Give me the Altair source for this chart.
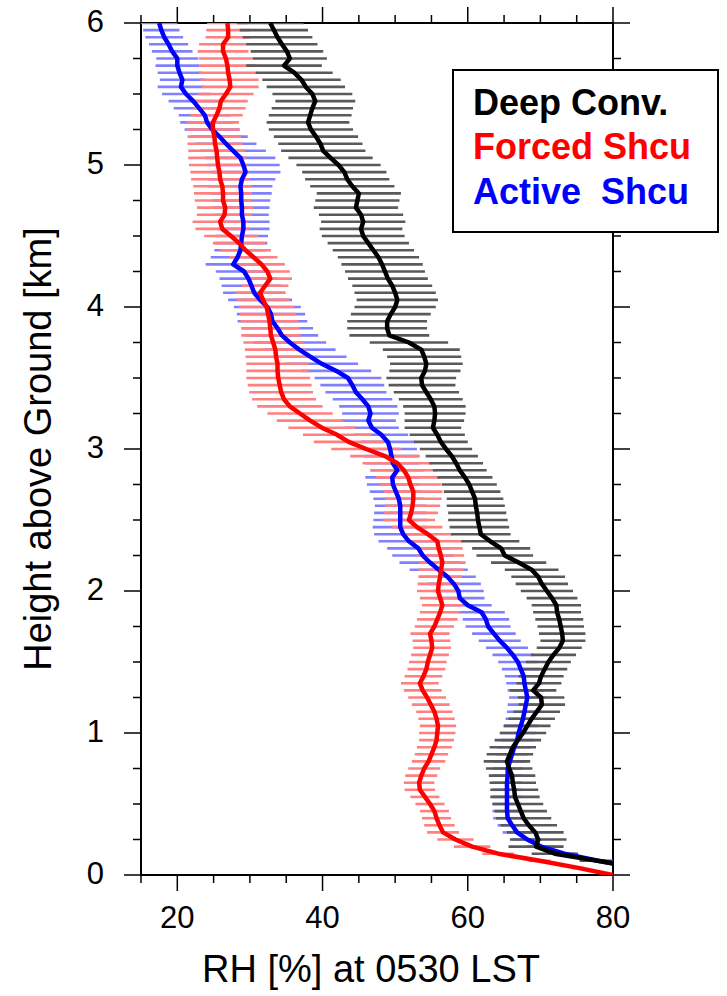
import altair as alt
import pandas as pd

# Height levels (km above ground), bottom to top, every 50 m
heights = [round(0.05 * i, 2) for i in range(121)]

# Deep convection days: mean RH (%) and spread (+/- %)
deep_mean = [90.0, 83.7, 77.9, 72.0, 69.4, 69.7, 69.3, 68.4, 67.7, 67.3,
             66.9, 66.5, 66.4, 66.2, 66.1, 65.7, 65.4, 65.8, 66.2, 66.9,
             67.6, 68.2, 68.8, 69.5, 70.2, 70.1, 69.0, 69.8, 70.1, 70.6,
             71.1, 71.8, 72.6, 73.1, 73.0, 72.8, 72.6, 72.3, 72.2, 71.6,
             70.9, 70.2, 69.7, 68.8, 67.0, 65.1, 64.6, 63.1, 61.8, 61.6,
             61.4, 61.3, 61.1, 61.0, 60.6, 60.2, 59.6, 58.9, 58.4, 57.8,
             57.0, 56.3, 55.8, 55.2, 55.4, 55.5, 55.4, 54.9, 54.3, 53.7,
             53.6, 54.1, 54.3, 54.0, 53.6, 51.9, 49.2, 48.9, 48.9, 49.4,
             50.0, 50.3, 50.0, 49.6, 49.0, 48.6, 48.2, 47.7, 47.0, 46.3,
             45.6, 45.3, 45.6, 45.3, 44.6, 44.8, 45.0, 44.1, 43.4, 43.0,
             42.2, 41.1, 40.1, 39.7, 39.1, 38.4, 38.0, 38.3, 38.6, 39.0,
             38.6, 37.7, 37.1, 36.1, 34.7, 35.5, 35.1, 34.4, 33.8, 33.3,
             32.8]
deep_err = [0.5, 1.5, 2.5, 3.2, 3.8, 3.9, 3.9, 3.9, 3.8, 3.6,
            3.5, 3.4, 3.3, 3.2, 3.2, 3.2, 3.2, 3.2, 3.2, 3.2,
            3.2, 3.2, 3.2, 3.2, 3.2, 3.2, 3.2, 3.1, 3.1, 3.1,
            3.1, 3.1, 3.1, 3.1, 3.2, 3.2, 3.3, 3.3, 3.4, 3.5,
            3.6, 3.6, 3.7, 3.7, 3.8, 3.9, 4.0, 4.0, 4.1, 4.1,
            4.1, 4.0, 4.0, 3.9, 3.9, 3.8, 3.8, 3.7, 3.7, 3.6,
            3.6, 3.7, 3.8, 3.9, 4.1, 4.2, 4.3, 4.4, 4.5, 4.6,
            4.8, 4.9, 5.0, 5.1, 5.3, 5.4, 5.5, 5.5, 5.5, 5.5,
            5.6, 5.6, 5.6, 5.5, 5.5, 5.5, 5.6, 5.6, 5.6, 5.6,
            5.7, 5.7, 5.8, 5.8, 5.8, 5.8, 5.8, 5.8, 5.8, 5.8,
            5.8, 5.8, 5.8, 5.8, 5.8, 5.8, 5.7, 5.7, 5.6, 5.5,
            5.5, 5.4, 5.4, 5.3, 5.2, 5.1, 5.0, 4.9, 4.8, 4.7,
            4.6]

# Forced shallow cumulus days
forced_mean = [80.0, 75.2, 69.9, 64.2, 60.6, 58.3, 56.6, 56.1, 55.7, 55.4,
               54.8, 54.1, 53.4, 53.3, 53.6, 54.0, 54.6, 55.0, 55.4, 55.7,
               55.8, 55.9, 55.7, 55.4, 54.9, 54.4, 53.8, 53.4, 53.9, 54.3,
               54.5, 54.8, 55.1, 55.0, 54.8, 55.4, 55.8, 56.2, 56.5, 56.2,
               55.9, 56.0, 56.2, 56.3, 56.5, 56.3, 56.0, 55.8, 54.5, 53.0,
               51.9, 52.2, 52.4, 52.5, 52.5, 52.1, 51.8, 51.2, 50.3, 48.6,
               46.0, 43.6, 42.0, 39.9, 38.3, 36.9, 35.5, 34.7, 34.3, 34.1,
               33.9, 33.8, 33.8, 33.6, 33.5, 33.2, 32.9, 32.8, 32.7, 32.5,
               32.3, 31.8, 31.4, 32.1, 32.8, 32.4, 31.6, 30.5, 29.4, 28.5,
               27.4, 26.2, 25.9, 26.5, 26.6, 26.3, 26.3, 26.2, 25.9, 25.8,
               25.6, 25.5, 25.4, 25.2, 25.1, 24.9, 24.9, 25.4, 25.8, 26.0,
               26.7, 27.3, 27.2, 27.0, 26.9, 26.7, 26.3, 26.3, 27.0, 27.0,
               26.9]
forced_err = [0.3, 0.8, 1.5, 2.2, 2.5, 2.5, 2.2, 2.1, 2.0, 2.0,
              2.0, 2.0, 2.1, 2.1, 2.2, 2.2, 2.3, 2.3, 2.4, 2.4,
              2.5, 2.5, 2.5, 2.5, 2.6, 2.6, 2.6, 2.6, 2.6, 2.6,
              2.6, 2.6, 2.6, 2.6, 2.7, 2.7, 2.8, 2.8, 2.8, 2.8,
              2.9, 2.9, 3.0, 3.1, 3.2, 3.2, 3.3, 3.4, 3.5, 3.5,
              3.6, 3.7, 3.8, 3.9, 4.0, 4.2, 4.5, 4.6, 4.8, 4.8,
              4.8, 4.8, 4.7, 4.6, 4.6, 4.5, 4.5, 4.4, 4.4, 4.4,
              4.4, 4.3, 4.3, 4.2, 4.2, 4.1, 4.1, 4.0, 4.0, 3.9,
              3.8, 3.6, 3.4, 3.2, 3.0, 3.1, 3.2, 3.3, 3.5, 3.6,
              3.7, 3.7, 3.8, 3.8, 3.9, 3.9, 4.0, 4.0, 4.0, 4.0,
              4.0, 4.0, 3.9, 3.8, 3.7, 3.6, 3.6, 3.6, 3.6, 3.7,
              3.8, 3.9, 4.0, 4.0, 3.9, 3.7, 3.5, 3.3, 3.1, 3.0,
              2.8]

# Active shallow cumulus days
active_mean = [90.0, 83.7, 77.9, 73.3, 70.1, 68.2, 66.8, 66.1, 65.5, 65.4,
               65.4, 65.4, 65.4, 65.4, 65.5, 65.5, 65.8, 66.1, 66.4, 66.8,
               67.0, 67.3, 67.6, 67.8, 68.0, 68.2, 68.0, 67.8, 67.7, 67.3,
               66.9, 66.2, 65.4, 64.4, 63.6, 62.8, 62.5, 61.9, 60.0, 58.9,
               58.7, 58.1, 57.2, 56.0, 54.8, 53.8, 53.2, 51.9, 51.1, 50.7,
               50.7, 50.7, 50.7, 50.5, 50.1, 49.7, 49.6, 50.3, 49.7, 49.5,
               49.3, 49.0, 48.1, 46.8, 46.3, 46.6, 46.3, 45.5, 44.6, 44.1,
               43.5, 41.9, 39.9, 38.3, 36.8, 35.5, 34.4, 33.8, 33.1, 32.9,
               32.4, 31.4, 30.6, 30.2, 29.8, 29.2, 27.7, 28.3, 28.7, 28.8,
               28.9, 29.1, 29.1, 28.9, 28.9, 28.8, 28.8, 28.7, 28.9, 29.4,
               29.1, 28.7, 27.7, 26.7, 25.8, 24.8, 24.1, 23.8, 23.0, 22.2,
               21.2, 20.5, 20.7, 20.3, 20.0, 20.0, 19.3, 18.8, 18.2, 17.8,
               17.5]
active_err = [0.5, 0.8, 1.0, 1.5, 2.0, 2.0, 2.0, 2.0, 2.0, 2.0,
              2.0, 2.0, 2.0, 2.0, 2.1, 2.1, 2.2, 2.2, 2.3, 2.3,
              2.4, 2.4, 2.4, 2.4, 2.5, 2.5, 2.5, 2.5, 2.6, 2.6,
              2.7, 2.8, 2.9, 2.9, 3.0, 3.1, 3.2, 3.2, 3.3, 3.4,
              3.5, 3.7, 3.9, 4.0, 4.2, 4.2, 4.3, 4.2, 4.0, 3.8,
              3.7, 3.6, 3.5, 3.5, 3.6, 3.6, 3.7, 3.7, 3.7, 3.7,
              3.7, 3.7, 3.7, 3.7, 3.8, 3.9, 4.0, 4.1, 4.2, 4.4,
              4.6, 4.8, 5.0, 5.0, 5.0, 5.0, 5.0, 4.9, 4.8, 4.7,
              4.6, 4.4, 4.3, 4.1, 4.0, 3.9, 3.8, 3.7, 3.6, 3.6,
              3.6, 3.6, 3.6, 3.7, 3.8, 4.0, 4.2, 4.4, 4.6, 4.8,
              5.0, 4.8, 4.5, 4.2, 3.9, 3.8, 3.7, 3.6, 3.5, 3.4,
              3.3, 3.2, 3.1, 3.0, 3.0, 2.9, 2.8, 2.7, 2.6, 2.5,
              2.5]

legend_labels = ["Deep Conv.", "Forced Shcu", "Active\u00a0 Shcu"]
line_colors = ["#000000", "#ff0000", "#0000ff"]
bar_colors = ["#5a5a5a", "#ff8080", "#8080ff"]

# Axis tick positions
y_major = [0, 1, 2, 3, 4, 5, 6]
y_minor = [0.25, 0.5, 0.75, 1.25, 1.5, 1.75, 2.25, 2.5, 2.75, 3.25, 3.5,
           3.75, 4.25, 4.5, 4.75, 5.25, 5.5, 5.75]
x_major = [20, 40, 60, 80]
x_minor = [15, 25, 30, 35, 45, 50, 55, 65, 70, 75]

W, H = 472, 852
FONT = "Liberation Sans, Arial, Helvetica, sans-serif"

xs = alt.Scale(domain=[15, 80], nice=False, zero=False)
ys = alt.Scale(domain=[0, 6], nice=False, zero=False)


def profile_frame(mean, err):
    return pd.DataFrame({
        "h": heights,
        "rh": mean,
        "lo": [m - e for m, e in zip(mean, err)],
        "hi": [m + e for m, e in zip(mean, err)],
    })


frames = {
    "deep": profile_frame(deep_mean, deep_err),
    "forced": profile_frame(forced_mean, forced_err),
    "active": profile_frame(active_mean, active_err),
}


def spread_bars(df, color):
    return alt.Chart(df).mark_rule(
        stroke=color, strokeWidth=2.6, clip=True
    ).encode(
        x=alt.X("lo:Q", scale=xs, axis=None),
        x2="hi:Q",
        y=alt.Y("h:Q", scale=ys, axis=None),
    )


def mean_line(df, color):
    return alt.Chart(df).mark_line(
        stroke=color, strokeWidth=4.5, clip=True, strokeJoin="round"
    ).encode(
        x=alt.X("rh:Q", scale=xs, axis=None),
        y=alt.Y("h:Q", scale=ys, axis=None),
        order=alt.Order("h:Q"),
    )


ytick_major = pd.DataFrame({"v": y_major})
ytick_minor = pd.DataFrame({"v": y_minor})
xtick_major = pd.DataFrame({"v": x_major})
xtick_minor = pd.DataFrame({"v": x_minor})


def yticks(df, x0, x1):
    return alt.Chart(df).mark_rule(color="black", strokeWidth=1.5).encode(
        y=alt.Y("v:Q", scale=ys, axis=None), x=alt.value(x0), x2=alt.value(x1))


def xticks(df, y0, y1):
    return alt.Chart(df).mark_rule(color="black", strokeWidth=1.5).encode(
        x=alt.X("v:Q", scale=xs, axis=None), y=alt.value(y0), y2=alt.value(y1))


# Outward ticks on all four sides of the frame
ticks = [
    yticks(ytick_major, 0, -17),
    yticks(ytick_minor, 0, -8),
    yticks(ytick_major, W, W + 17),
    yticks(ytick_minor, W, W + 8),
    xticks(xtick_major, H, H + 16),
    xticks(xtick_minor, H, H + 8),
    xticks(xtick_major, 0, -16),
    xticks(xtick_minor, 0, -8),
]

# Tick labels
ylabels = alt.Chart(ytick_major).mark_text(
    font=FONT, fontSize=31, align="right", baseline="middle", color="black"
).encode(
    y=alt.Y("v:Q", scale=ys, axis=None), x=alt.value(-37),
    text=alt.Text("v:Q", format="d"),
)
xlabels = alt.Chart(xtick_major).mark_text(
    font=FONT, fontSize=31, align="center", baseline="middle", color="black"
).encode(
    x=alt.X("v:Q", scale=xs, axis=None), y=alt.value(H + 44),
    text=alt.Text("v:Q", format="d"),
)

# Axis titles
xtitle = alt.Chart(pd.DataFrame({"t": ["RH [%] at 0530 LST"]})).mark_text(
    font=FONT, fontSize=38, align="center", baseline="alphabetic", color="black"
).encode(x=alt.value(230), y=alt.value(H + 107), text="t:N")
ytitle = alt.Chart(pd.DataFrame({"t": ["Height above Ground [km]"]})).mark_text(
    font=FONT, fontSize=38, align="center", baseline="middle", angle=270,
    color="black"
).encode(x=alt.value(-101), y=alt.value(H / 2), text="t:N")

# Legend box with coloured labels
legend_box = alt.Chart(pd.DataFrame({"k": [0]})).mark_rect(
    fill="white", stroke="black", strokeWidth=2
).encode(x=alt.value(312), x2=alt.value(577), y=alt.value(47), y2=alt.value(209))

legend_rows = [92, 136, 181]
legend_text = [
    alt.Chart(pd.DataFrame({"t": [lab]})).mark_text(
        font=FONT, fontSize=36, fontWeight="bold", align="left",
        baseline="alphabetic", color=col
    ).encode(x=alt.value(332), y=alt.value(yy), text="t:N")
    for lab, col, yy in zip(legend_labels, line_colors, legend_rows)
]

chart = alt.layer(
    spread_bars(frames["active"], bar_colors[2]),
    spread_bars(frames["forced"], bar_colors[1]),
    spread_bars(frames["deep"], bar_colors[0]),
    mean_line(frames["active"], line_colors[2]),
    mean_line(frames["forced"], line_colors[1]),
    mean_line(frames["deep"], line_colors[0]),
    *ticks,
    ylabels, xlabels, xtitle, ytitle,
    legend_box,
    *legend_text,
).properties(
    width=W, height=H,
    autosize=alt.AutoSizeParams(type="none"),
    padding={"left": 141, "top": 23, "right": 114, "bottom": 121},
).configure_view(stroke="black", strokeWidth=2)

chart.save("out.html", embed_options={"renderer": "svg", "actions": False})
